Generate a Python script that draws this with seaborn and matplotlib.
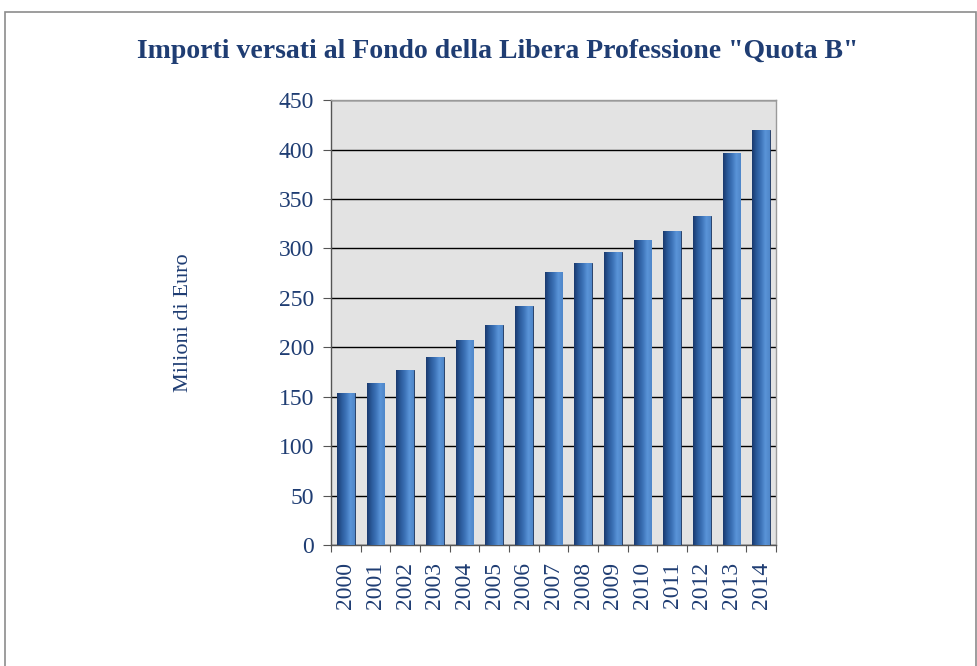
import numpy as np
import pandas as pd
import matplotlib
matplotlib.use("Agg")
import matplotlib.pyplot as plt
import seaborn as sns
from matplotlib.patches import Rectangle
from matplotlib.colors import LinearSegmentedColormap

# --- Data ---
years = ["2000", "2001", "2002", "2003", "2004", "2005", "2006", "2007",
         "2008", "2009", "2010", "2011", "2012", "2013", "2014"]
importi = [153.4, 163.5, 176.7, 190.1, 207.8, 222.5, 241.5, 276.0,
           285.4, 296.5, 308.1, 317.9, 333.0, 396.0, 420.0]
y_ticks = [0, 50, 100, 150, 200, 250, 300, 350, 400, 450]

TITLE = 'Importi versati al Fondo della Libera Professione "Quota B"'
Y_LABEL = "Milioni di Euro"
NAVY = "#1f3d73"

df = pd.DataFrame({"anno": years, "importo": importi})

sns.set_style("white")
plt.rcParams["font.family"] = ["Liberation Serif", "DejaVu Serif"]

fig = plt.figure(figsize=(9.77, 6.66), dpi=100)
ax = fig.add_axes([0.3388, 0.1817, 0.4555, 0.668])

# --- Bars ---
sns.barplot(data=df, x="anno", y="importo", color="#2e5c9a", width=0.6,
            edgecolor="#1a3560", linewidth=0.6, ax=ax, zorder=3)

# cylinder-ish horizontal gradient on each bar
bar_cmap = LinearSegmentedColormap.from_list(
    "bar", ["#1a3a6e", "#2b5a9a", "#3d73b8", "#5a94d8", "#4f86c9"])
grad = np.linspace(0, 1, 64).reshape(1, -1)
for patch in ax.patches:
    x0, y0 = patch.get_x(), patch.get_y()
    w, h = patch.get_width(), patch.get_height()
    im = ax.imshow(grad, extent=[x0, x0 + w, y0, y0 + h], aspect="auto",
                   cmap=bar_cmap, zorder=3.5, origin="lower")
    im.set_clip_path(patch)

ax.set_xlim(-0.5, len(years) - 0.5)
ax.set_ylim(0, 450)

# --- Background and grid ---
ax.set_facecolor("#e3e3e3")
ax.set_yticks(y_ticks)
ax.yaxis.grid(True, color="black", linewidth=1.0, zorder=1)
ax.set_axisbelow(True)
for side in ["top", "right"]:
    ax.spines[side].set_color("#9a9a9a")
    ax.spines[side].set_linewidth(1.0)
for side in ["left", "bottom"]:
    ax.spines[side].set_color("#555555")
    ax.spines[side].set_linewidth(1.0)

# tick marks between categories, labels on categories
ax.set_xticks(np.arange(len(years)))
ax.set_xticklabels(years, rotation=90, fontsize=17, color=NAVY)
ax.set_xticks(np.arange(-0.5, len(years)), minor=True)
ax.tick_params(axis="x", which="major", length=0, pad=12)
ax.tick_params(axis="x", which="minor", length=5, width=0.8, color="#555555",
               direction="out", bottom=True)
ax.tick_params(axis="y", labelsize=17, labelcolor=NAVY, length=6, width=0.8,
               color="#555555", direction="out", left=True, pad=6)

ax.set_xlabel("")
ax.set_ylabel(Y_LABEL, fontsize=16, color=NAVY, labelpad=62)

fig.text(0.509, 0.923, TITLE, ha="center", va="center", fontsize=20,
         fontweight="bold", color=NAVY)

# outer chart-area border
fig.patches.append(Rectangle((5 / 977, -0.01), 971 / 977, 1 - 12 / 666 + 0.01,
                             transform=fig.transFigure, fill=False,
                             edgecolor="#8c8c8c", linewidth=1.2))

fig.savefig("out.png", dpi=100)
